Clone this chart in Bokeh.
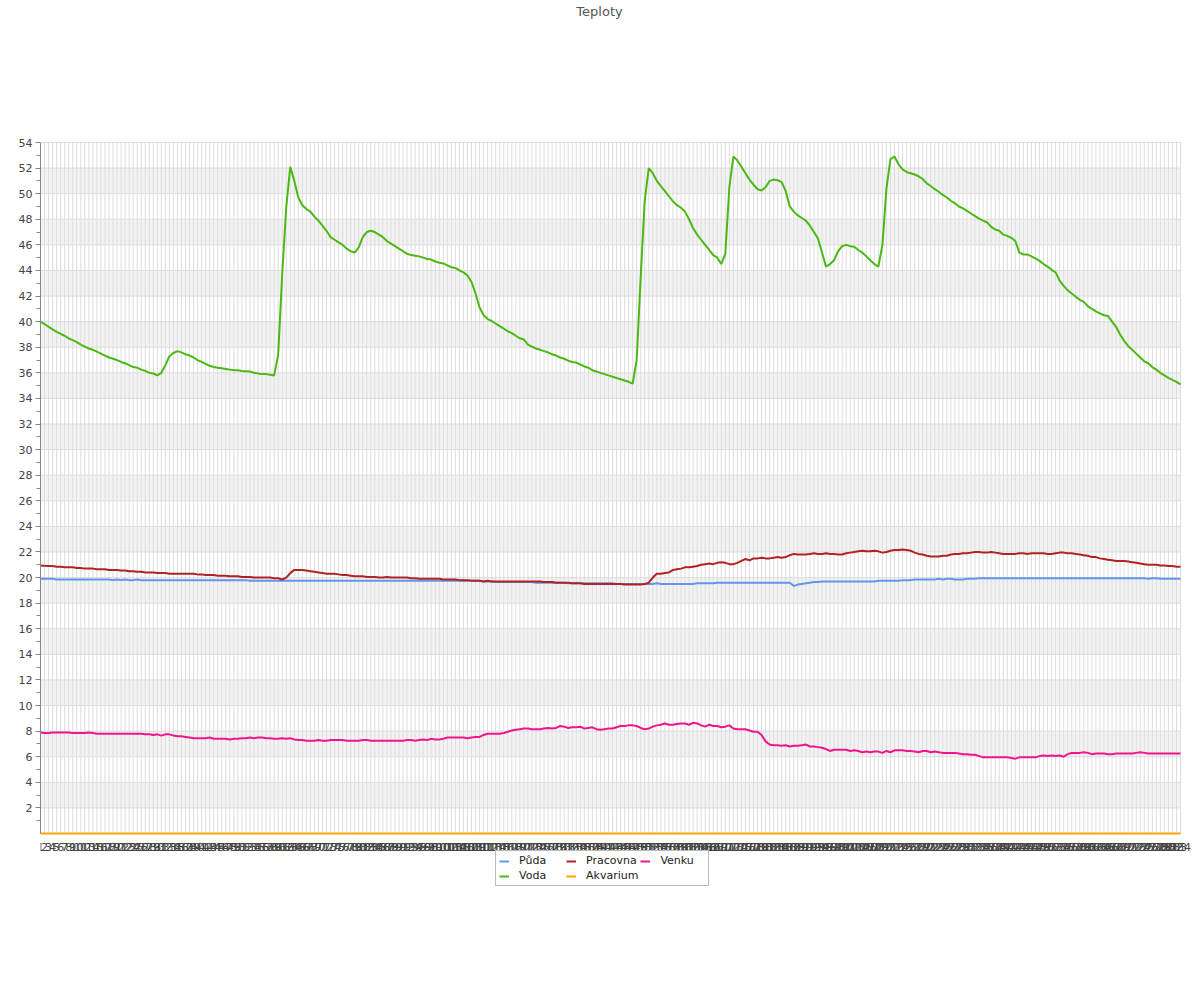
from bokeh.plotting import figure
from bokeh.models import ColumnDataSource, FixedTicker, Range1d, Legend, LegendItem, Label
from bokeh.core.properties import value
from bokeh.embed import file_html
from bokeh.resources import INLINE

# ---------------- data ----------------
categories = [str(i) for i in range(1, 285)]

puda = [
    19.9, 19.9, 19.9, 19.9, 19.85, 19.85, 19.85, 19.85, 19.85, 19.85,
    19.85, 19.85, 19.85, 19.85, 19.85, 19.85, 19.85, 19.85, 19.8, 19.85,
    19.8, 19.85, 19.8, 19.8, 19.85, 19.8, 19.8, 19.8, 19.8, 19.8,
    19.8, 19.8, 19.8, 19.8, 19.8, 19.8, 19.8, 19.8, 19.8, 19.8,
    19.8, 19.8, 19.8, 19.8, 19.8, 19.8, 19.8, 19.8, 19.8, 19.8,
    19.8, 19.8, 19.75, 19.75, 19.75, 19.75, 19.75, 19.75, 19.75, 19.75,
    19.75, 19.75, 19.75, 19.75, 19.75, 19.75, 19.75, 19.75, 19.75, 19.75,
    19.75, 19.75, 19.75, 19.75, 19.75, 19.75, 19.75, 19.75, 19.75, 19.75,
    19.75, 19.75, 19.75, 19.75, 19.75, 19.75, 19.75, 19.75, 19.75, 19.75,
    19.75, 19.75, 19.75, 19.75, 19.75, 19.75, 19.75, 19.75, 19.75, 19.75,
    19.75, 19.75, 19.75, 19.75, 19.75, 19.75, 19.75, 19.75, 19.75, 19.75,
    19.7, 19.7, 19.7, 19.65, 19.65, 19.65, 19.65, 19.65, 19.65, 19.65,
    19.65, 19.65, 19.65, 19.6, 19.6, 19.6, 19.6, 19.6, 19.6, 19.6,
    19.6, 19.55, 19.55, 19.55, 19.55, 19.55, 19.55, 19.55, 19.55, 19.55,
    19.55, 19.55, 19.55, 19.5, 19.5, 19.5, 19.5, 19.5, 19.5, 19.5,
    19.5, 19.5, 19.5, 19.55, 19.5, 19.5, 19.5, 19.5, 19.5, 19.5,
    19.5, 19.5, 19.5, 19.55, 19.55, 19.55, 19.55, 19.55, 19.6, 19.6,
    19.6, 19.6, 19.6, 19.6, 19.6, 19.6, 19.6, 19.6, 19.6, 19.6,
    19.6, 19.6, 19.6, 19.6, 19.6, 19.6, 19.6, 19.35, 19.45, 19.5,
    19.55, 19.6, 19.65, 19.65, 19.7, 19.7, 19.7, 19.7, 19.7, 19.7,
    19.7, 19.7, 19.7, 19.7, 19.7, 19.7, 19.7, 19.7, 19.75, 19.75,
    19.75, 19.75, 19.75, 19.75, 19.8, 19.8, 19.8, 19.85, 19.85, 19.85,
    19.85, 19.85, 19.85, 19.9, 19.85, 19.9, 19.9, 19.85, 19.85, 19.85,
    19.9, 19.9, 19.9, 19.95, 19.95, 19.95, 19.95, 19.95, 19.95, 19.95,
    19.95, 19.95, 19.95, 19.95, 19.95, 19.95, 19.95, 19.95, 19.95, 19.95,
    19.95, 19.95, 19.95, 19.95, 19.95, 19.95, 19.95, 19.95, 19.95, 19.95,
    19.95, 19.95, 19.95, 19.95, 19.95, 19.95, 19.95, 19.95, 19.95, 19.95,
    19.95, 19.95, 19.95, 19.95, 19.95, 19.9, 19.95, 19.95, 19.9, 19.9,
    19.9, 19.9, 19.9, 19.9,
]

voda = [
    40.0, 39.8, 39.6, 39.4, 39.2, 39.05, 38.9, 38.7, 38.55, 38.4,
    38.2, 38.05, 37.9, 37.8, 37.65, 37.5, 37.35, 37.2, 37.1, 37.0,
    36.85, 36.75, 36.6, 36.45, 36.4, 36.25, 36.15, 36.0, 35.95, 35.8,
    36.0, 36.6, 37.3, 37.55, 37.7, 37.6, 37.45, 37.35, 37.2, 37.0,
    36.85, 36.7, 36.55, 36.45, 36.4, 36.35, 36.3, 36.25, 36.2, 36.2,
    36.15, 36.13, 36.1, 36.0, 35.95, 35.9, 35.9, 35.85, 35.8, 37.4,
    43.7, 48.9, 52.1, 51.0, 49.7, 49.1, 48.8, 48.6, 48.2, 47.9,
    47.5, 47.1, 46.6, 46.4, 46.2, 46.0, 45.7, 45.5, 45.4, 45.8,
    46.6, 47.0, 47.1, 47.0, 46.8, 46.6, 46.3, 46.1, 45.9, 45.7,
    45.5, 45.3, 45.2, 45.15, 45.1, 45.0, 44.9, 44.85, 44.7, 44.6,
    44.55, 44.4, 44.25, 44.2, 44.0, 43.85, 43.6, 43.1, 42.2, 41.1,
    40.5, 40.2, 40.05, 39.85, 39.65, 39.45, 39.25, 39.1, 38.9, 38.7,
    38.6, 38.2, 38.05, 37.9, 37.8, 37.7, 37.6, 37.45, 37.35, 37.2,
    37.1, 36.95, 36.85, 36.8, 36.65, 36.5, 36.4, 36.2, 36.1, 36.0,
    35.9, 35.8, 35.7, 35.6, 35.5, 35.4, 35.3, 35.15, 37.0, 43.5,
    49.5, 52.0, 51.6, 51.0, 50.6, 50.2, 49.8, 49.4, 49.1, 48.9,
    48.6, 48.0, 47.3, 46.8, 46.4, 46.0, 45.6, 45.2, 45.0, 44.5,
    45.3, 50.5, 52.9, 52.6, 52.1, 51.6, 51.1, 50.7, 50.35, 50.25,
    50.5, 51.0, 51.1, 51.05, 50.9, 50.2, 49.0, 48.6, 48.3, 48.1,
    47.9, 47.5, 47.0, 46.5, 45.4, 44.3, 44.5, 44.8, 45.5, 45.9,
    46.0, 45.9, 45.85, 45.6, 45.4, 45.1, 44.8, 44.5, 44.3, 46.0,
    50.4, 52.7, 52.9, 52.3, 51.9, 51.7, 51.6, 51.5, 51.35, 51.15,
    50.8, 50.6, 50.35, 50.15, 49.9, 49.7, 49.45, 49.25, 49.0, 48.85,
    48.65, 48.45, 48.25, 48.05, 47.9, 47.75, 47.4, 47.2, 47.1, 46.8,
    46.7, 46.55, 46.3, 45.4, 45.25, 45.25, 45.1, 44.95, 44.75, 44.5,
    44.3, 44.05, 43.85, 43.2, 42.8, 42.45, 42.2, 41.95, 41.7, 41.55,
    41.2, 41.0, 40.8, 40.65, 40.5, 40.45, 40.0, 39.6, 39.0, 38.5,
    38.1, 37.8, 37.5, 37.2, 36.9, 36.75, 36.45, 36.25, 36.0, 35.8,
    35.6, 35.45, 35.3, 35.1,
]

pracovna = [
    20.95, 20.92, 20.9, 20.9, 20.85, 20.85, 20.8, 20.8, 20.8, 20.75,
    20.75, 20.7, 20.7, 20.7, 20.65, 20.65, 20.65, 20.6, 20.6, 20.6,
    20.55, 20.55, 20.5, 20.5, 20.45, 20.45, 20.4, 20.4, 20.4, 20.35,
    20.35, 20.35, 20.3, 20.3, 20.3, 20.3, 20.3, 20.3, 20.3, 20.25,
    20.25, 20.2, 20.2, 20.2, 20.15, 20.15, 20.15, 20.1, 20.1, 20.1,
    20.05, 20.05, 20.05, 20.0, 20.0, 20.0, 20.0, 20.0, 19.95, 19.95,
    19.85, 20.0, 20.35, 20.6, 20.6, 20.6, 20.55, 20.5, 20.45, 20.4,
    20.35, 20.3, 20.3, 20.3, 20.25, 20.2, 20.2, 20.15, 20.1, 20.1,
    20.1, 20.05, 20.05, 20.05, 20.0, 20.0, 20.05, 20.0, 20.0, 20.0,
    20.0, 20.0, 19.95, 19.95, 19.9, 19.9, 19.9, 19.9, 19.9, 19.9,
    19.85, 19.85, 19.85, 19.85, 19.8, 19.8, 19.8, 19.75, 19.75, 19.75,
    19.7, 19.75, 19.7, 19.7, 19.7, 19.7, 19.7, 19.7, 19.7, 19.7,
    19.7, 19.7, 19.7, 19.7, 19.7, 19.65, 19.65, 19.65, 19.6, 19.6,
    19.6, 19.6, 19.55, 19.55, 19.55, 19.5, 19.5, 19.5, 19.5, 19.5,
    19.5, 19.5, 19.5, 19.5, 19.5, 19.45, 19.45, 19.45, 19.45, 19.45,
    19.5, 19.6, 20.0, 20.3, 20.3, 20.35, 20.4, 20.6, 20.65, 20.7,
    20.8, 20.8, 20.85, 20.9, 21.0, 21.05, 21.1, 21.05, 21.15, 21.2,
    21.15, 21.05, 21.05, 21.15, 21.3, 21.45, 21.35, 21.5, 21.5, 21.55,
    21.5, 21.5, 21.55, 21.6, 21.55, 21.6, 21.75, 21.85, 21.8, 21.8,
    21.8, 21.85, 21.9, 21.85, 21.85, 21.9, 21.85, 21.85, 21.8, 21.8,
    21.9, 21.95, 22.0, 22.05, 22.1, 22.05, 22.05, 22.1, 22.05, 21.95,
    22.0, 22.1, 22.15, 22.15, 22.2, 22.15, 22.1, 21.95, 21.85, 21.8,
    21.7, 21.65, 21.65, 21.65, 21.7, 21.7, 21.8, 21.85, 21.85, 21.9,
    21.9, 21.95, 22.0, 22.0, 21.95, 21.95, 22.0, 21.95, 21.9, 21.85,
    21.85, 21.85, 21.85, 21.9, 21.9, 21.85, 21.9, 21.9, 21.9, 21.9,
    21.85, 21.85, 21.9, 21.95, 21.95, 21.9, 21.9, 21.85, 21.8, 21.75,
    21.7, 21.6, 21.6, 21.5, 21.45, 21.4, 21.35, 21.3, 21.3, 21.3,
    21.25, 21.2, 21.15, 21.1, 21.05, 21.0, 21.0, 21.0, 20.95, 20.95,
    20.9, 20.9, 20.85, 20.85,
]

akvarium = [
    0, 0, 0, 0, 0, 0, 0, 0, 0, 0, 0, 0, 0, 0, 0, 0, 0, 0, 0, 0,
    0, 0, 0, 0, 0, 0, 0, 0, 0, 0, 0, 0, 0, 0, 0, 0, 0, 0, 0, 0,
    0, 0, 0, 0, 0, 0, 0, 0, 0, 0, 0, 0, 0, 0, 0, 0, 0, 0, 0, 0,
    0, 0, 0, 0, 0, 0, 0, 0, 0, 0, 0, 0, 0, 0, 0, 0, 0, 0, 0, 0,
    0, 0, 0, 0, 0, 0, 0, 0, 0, 0, 0, 0, 0, 0, 0, 0, 0, 0, 0, 0,
    0, 0, 0, 0, 0, 0, 0, 0, 0, 0, 0, 0, 0, 0, 0, 0, 0, 0, 0, 0,
    0, 0, 0, 0, 0, 0, 0, 0, 0, 0, 0, 0, 0, 0, 0, 0, 0, 0, 0, 0,
    0, 0, 0, 0, 0, 0, 0, 0, 0, 0, 0, 0, 0, 0, 0, 0, 0, 0, 0, 0,
    0, 0, 0, 0, 0, 0, 0, 0, 0, 0, 0, 0, 0, 0, 0, 0, 0, 0, 0, 0,
    0, 0, 0, 0, 0, 0, 0, 0, 0, 0, 0, 0, 0, 0, 0, 0, 0, 0, 0, 0,
    0, 0, 0, 0, 0, 0, 0, 0, 0, 0, 0, 0, 0, 0, 0, 0, 0, 0, 0, 0,
    0, 0, 0, 0, 0, 0, 0, 0, 0, 0, 0, 0, 0, 0, 0, 0, 0, 0, 0, 0,
    0, 0, 0, 0, 0, 0, 0, 0, 0, 0, 0, 0, 0, 0, 0, 0, 0, 0, 0, 0,
    0, 0, 0, 0, 0, 0, 0, 0, 0, 0, 0, 0, 0, 0, 0, 0, 0, 0, 0, 0,
    0, 0, 0, 0,
]

venku = [
    7.9, 7.85, 7.85, 7.9, 7.9, 7.9, 7.9, 7.9, 7.85, 7.85,
    7.85, 7.85, 7.9, 7.85, 7.8, 7.8, 7.8, 7.8, 7.8, 7.8,
    7.8, 7.8, 7.8, 7.8, 7.8, 7.8, 7.75, 7.75, 7.7, 7.75,
    7.65, 7.75, 7.75, 7.65, 7.6, 7.6, 7.55, 7.5, 7.45, 7.45,
    7.45, 7.45, 7.5, 7.4, 7.4, 7.4, 7.4, 7.35, 7.4, 7.4,
    7.45, 7.45, 7.5, 7.45, 7.5, 7.5, 7.45, 7.45, 7.4, 7.4,
    7.45, 7.4, 7.45, 7.35, 7.3, 7.3, 7.25, 7.25, 7.25, 7.3,
    7.25, 7.25, 7.3, 7.3, 7.3, 7.3, 7.25, 7.25, 7.25, 7.25,
    7.3, 7.3, 7.25, 7.25, 7.25, 7.25, 7.25, 7.25, 7.25, 7.25,
    7.25, 7.3, 7.3, 7.25, 7.3, 7.35, 7.3, 7.4, 7.35, 7.35,
    7.4, 7.5, 7.5, 7.5, 7.5, 7.5, 7.45, 7.5, 7.55, 7.55,
    7.7, 7.8, 7.8, 7.8, 7.8, 7.85, 7.95, 8.05, 8.1, 8.15,
    8.2, 8.2, 8.15, 8.15, 8.15, 8.2, 8.25, 8.2, 8.25, 8.4,
    8.35, 8.25, 8.3, 8.3, 8.35, 8.2, 8.25, 8.3, 8.15, 8.1,
    8.15, 8.2, 8.2, 8.3, 8.4, 8.4, 8.45, 8.45, 8.4, 8.25,
    8.15, 8.2, 8.35, 8.45, 8.5, 8.6, 8.5, 8.5, 8.55, 8.6,
    8.6, 8.5, 8.65, 8.6, 8.45, 8.35, 8.5, 8.4, 8.4, 8.3,
    8.35, 8.45, 8.2, 8.15, 8.15, 8.15, 8.05, 7.95, 7.95, 7.7,
    7.2, 6.95, 6.9, 6.9, 6.85, 6.9, 6.8, 6.85, 6.85, 6.9,
    6.95, 6.8, 6.8, 6.75, 6.7, 6.6, 6.45, 6.55, 6.55, 6.55,
    6.55, 6.45, 6.5, 6.45, 6.35, 6.4, 6.35, 6.4, 6.4, 6.3,
    6.45, 6.35, 6.5, 6.5, 6.5, 6.45, 6.45, 6.4, 6.35, 6.45,
    6.45, 6.35, 6.4, 6.35, 6.3, 6.3, 6.3, 6.3, 6.25, 6.2,
    6.2, 6.15, 6.15, 6.05, 5.95, 5.95, 5.95, 5.95, 5.95, 5.95,
    5.95, 5.9, 5.85, 5.95, 5.95, 5.95, 5.95, 5.95, 6.05, 6.1,
    6.05, 6.1, 6.05, 6.1, 6.0, 6.2, 6.3, 6.3, 6.3, 6.35,
    6.3, 6.2, 6.25, 6.25, 6.25, 6.2, 6.2, 6.25, 6.25, 6.25,
    6.25, 6.25, 6.3, 6.35, 6.3, 6.25, 6.25, 6.25, 6.25, 6.25,
    6.25, 6.25, 6.25, 6.25,
]

y_ticks = [2, 4, 6, 8, 10, 12, 14, 16, 18, 20, 22, 24, 26, 28, 30, 32, 34,
           36, 38, 40, 42, 44, 46, 48, 50, 52, 54]
y_minor = [1, 3, 5, 7, 9, 11, 13, 15, 17, 19, 21, 23, 25, 27, 29, 31, 33,
           35, 37, 39, 41, 43, 45, 47, 49, 51, 53]
band_bottoms = [2, 6, 10, 14, 18, 22, 26, 30, 34, 38, 42, 46, 50]
band_tops = [4, 8, 12, 16, 20, 24, 28, 32, 36, 40, 44, 48, 52]
y_min, y_max = 0, 54
chart_title = "Teploty"

series_keys = ["puda", "voda", "pracovna", "akvarium", "venku"]
series_names = ["Půda", "Voda", "Pracovna", "Akvarium", "Venku"]
series_colors = ["#6495ed", "#4cb814", "#b22222", "#ffa500", "#f0158c"]
# legend reads column by column (2 rows): Půda/Voda, Pracovna/Akvarium, Venku
legend_order = ["Půda", "Pracovna", "Venku", "Voda", "Akvarium"]

# ---------------- figure ----------------
n = len(categories)
x_pos = list(range(1, n + 1))
src = ColumnDataSource(dict(x=x_pos, label=categories, puda=puda, voda=voda,
                            pracovna=pracovna, akvarium=akvarium, venku=venku))

# layout (pixels): value area 0..54 is 691 px tall and 1140 px wide, starting
# 142 px from the top; the frame also covers the title above and the category
# labels + legend below it, and 12 px on the right for the last label.
PX_PER_Y = 691.0 / (y_max - y_min)
PX_PER_X = 1140.0 / (n - 1)
top_pad, bottom_pad, right_pad = 142, 56, 12

p = figure(width=1192, height=top_pad + 691 + bottom_pad + 10,
           output_backend="svg", toolbar_location=None,
           x_range=Range1d(1, n + right_pad / PX_PER_X),
           y_range=Range1d(y_min - bottom_pad / PX_PER_Y, y_max + top_pad / PX_PER_Y),
           min_border_left=40, min_border_right=0, min_border_top=0,
           min_border_bottom=10)
p.outline_line_color = None
p.background_fill_color = "white"
p.border_fill_color = "white"

p.xgrid.visible = False
p.ygrid.visible = False
p.xaxis.visible = False

# title (page x ~599, y ~11)
title = Label(x=1 + (599 - 40) / PX_PER_X, y=y_max + (142 - 11) / PX_PER_Y,
              text=chart_title, text_align="center", text_baseline="middle",
              text_font="DejaVu Sans", text_font_size="13px",
              text_color="#555555")
p.add_layout(title)

# alternating bands
band_src = ColumnDataSource(dict(bottom=band_bottoms, top=band_tops))
bands = p.quad(left=1, right=n, bottom="bottom", top="top", source=band_src,
               fill_color="#f3f3f3", line_color=None)
bands.level = "underlay"

# grid lines (restricted to the data area)
vg = p.segment(x0="x", y0=y_min, x1="x", y1=y_max, source=src,
               line_color="#dddddd", line_width=1)
vg.level = "underlay"
hg_src = ColumnDataSource(dict(y=y_ticks))
hg = p.segment(x0=1, y0="y", x1=n, y1="y", source=hg_src,
               line_color="#dddddd", line_width=1)
hg.level = "underlay"

# y axis
p.yaxis.bounds = (y_min, y_max)
p.yaxis.ticker = FixedTicker(ticks=y_ticks, minor_ticks=y_minor)
p.yaxis.axis_line_color = "#888888"
p.yaxis.major_tick_line_color = "#888888"
p.yaxis.minor_tick_line_color = "#888888"
p.yaxis.major_tick_out = 5
p.yaxis.major_tick_in = 0
p.yaxis.minor_tick_out = 4
p.yaxis.minor_tick_in = 0
p.yaxis.major_label_text_font = "DejaVu Sans"
p.yaxis.major_label_text_font_size = "11px"
p.yaxis.major_label_text_color = "#444444"
p.yaxis.major_label_standoff = 3

# x axis baseline and category labels
base_src = ColumnDataSource(dict(y=[y_min]))
p.segment(x0=1, y0="y", x1=n, y1="y", source=base_src,
          line_color="#888888", line_width=1)
p.text(x="x", y=y_min, text="label", source=src,
       text_align="center", text_baseline="top", y_offset=9,
       text_font=value("DejaVu Sans"), text_font_size=value("11px"),
       text_color="#444444")

# lines
rmap = {}
for key, name, col in zip(series_keys, series_names, series_colors):
    rmap[name] = p.line("x", key, source=src, line_color=col, line_width=2)

legend = Legend(items=[LegendItem(label=nm, renderers=[rmap[nm]]) for nm in legend_order],
                orientation="horizontal", ncols=3, location=(455, 3))
legend.label_text_font = "DejaVu Sans"
legend.label_text_font_size = "11px"
legend.label_text_color = "#222222"
legend.glyph_width = 10
legend.glyph_height = 12
legend.label_height = 12
legend.label_width = 45
legend.label_standoff = 10
legend.spacing = 2
legend.padding = 3
legend.margin = 0
legend.border_line_color = "#777777"
legend.border_line_width = 1
legend.background_fill_alpha = 1
p.add_layout(legend, "center")

open("out.html", "w").write(file_html(p, INLINE))
